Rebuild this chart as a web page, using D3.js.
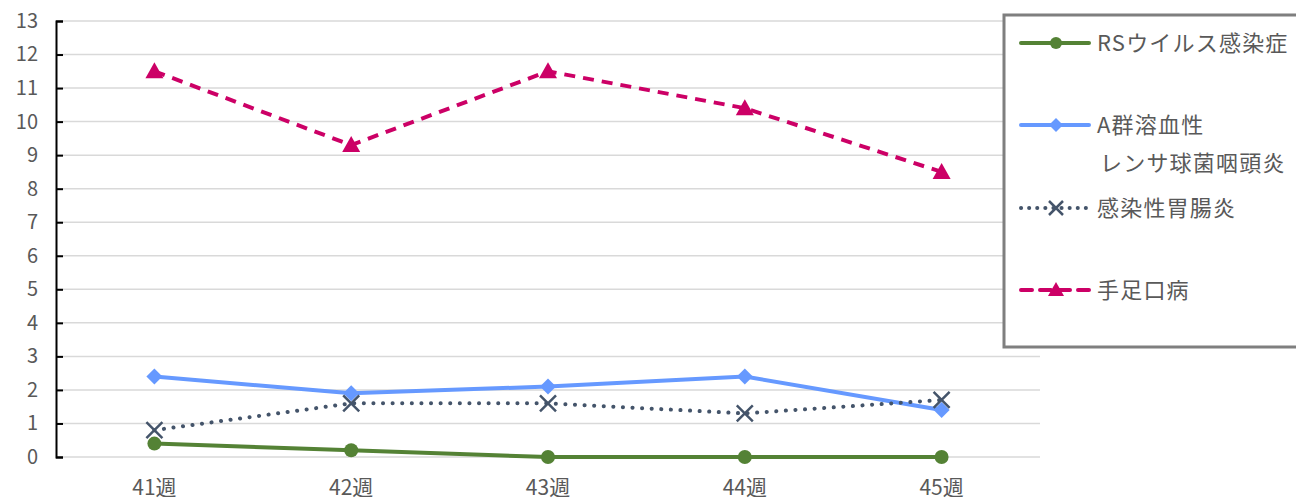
<!DOCTYPE html>
<html>
<head>
<meta charset="utf-8">
<script src="https://cdn.jsdelivr.net/npm/d3@7"></script>
<style>
  body { margin: 0; background: #ffffff; }
  svg text { font-family: "Noto Sans CJK JP", "Noto Sans", sans-serif; fill: #595959; }
</style>
</head>
<body>
<div id="chart"></div>
<script>
// data
var weeks = ["41週", "42週", "43週", "44週", "45週"];
var rsVirus = [0.4, 0.2, 0, 0, 0];
var strepA = [2.4, 1.9, 2.1, 2.4, 1.4];
var gastro = [0.8, 1.6, 1.6, 1.3, 1.7];
var handFootMouth = [11.5, 9.3, 11.5, 10.4, 8.5];
var yTicks = d3.range(0, 14);

var series = [
    {name: ["RSウイルス感染症"], values: rsVirus, color: "#548235", dash: null, marker: "circle"},
    {name: ["A群溶血性", "レンサ球菌咽頭炎"], values: strepA, color: "#6699ff", dash: null, marker: "diamond"},
    {name: ["感染性胃腸炎"], values: gastro, color: "#44546a", dash: "0.1,9.5", marker: "cross"},
    {name: ["手足口病"], values: handFootMouth, color: "#cc0066", dash: "11,8", marker: "triangle"}
];

var W = 1296, H = 502;
var plotLeft = 56, plotRight = 1040, plotTop = 21, plotBottom = 457;

var svg = d3.select("#chart").append("svg")
    .attr("width", W)
    .attr("height", H);

var x = d3.scaleBand().domain(weeks).range([plotLeft, plotRight]);
var y = d3.scaleLinear().domain([0, 13]).range([plotBottom, plotTop]);

// gridlines
svg.append("g")
    .selectAll("line")
    .data(yTicks)
    .enter().append("line")
    .attr("x1", plotLeft)
    .attr("x2", plotRight)
    .attr("y1", function(d){ return y(d); })
    .attr("y2", function(d){ return y(d); })
    .attr("stroke", "#d9d9d9")
    .attr("stroke-width", 1.5);

// y axis
var yAxis = svg.append("g")
    .attr("transform", "translate(" + plotLeft + ",0)")
    .call(d3.axisLeft(y).tickValues(yTicks).tickSize(-7).tickPadding(18).tickFormat(d3.format("d")));
yAxis.select(".domain").attr("stroke", "#000").attr("stroke-width", 2);
yAxis.selectAll(".tick line").attr("stroke", "#000").attr("stroke-width", 2);
yAxis.selectAll("text").style("font-size", "20px").attr("fill", "#595959");

// x labels
var xAxis = svg.append("g")
    .attr("transform", "translate(0," + plotBottom + ")")
    .call(d3.axisBottom(x).tickSize(0).tickPadding(23));
xAxis.select(".domain").remove();
xAxis.selectAll("text").style("font-size", "21px").attr("fill", "#595959");

var line = d3.line()
    .x(function(d, i){ return x(weeks[i]) + x.bandwidth() / 2; })
    .y(function(d){ return y(d); });

function drawMarker(g, type, color, cx, cy, sz) {
    sz = sz || 8;
    if (type == "circle") {
        g.append("circle").attr("cx", cx).attr("cy", cy).attr("r", sz - 1).attr("fill", color);
    } else if (type == "diamond") {
        g.append("path")
            .attr("d", "M" + cx + "," + (cy - sz) + " L" + (cx + sz) + "," + cy + " L" + cx + "," + (cy + sz) + " L" + (cx - sz) + "," + cy + "Z")
            .attr("fill", color);
    } else if (type == "cross") {
        g.append("path")
            .attr("d", "M" + (cx - sz) + "," + (cy - sz) + " L" + (cx + sz) + "," + (cy + sz) + " M" + (cx + sz) + "," + (cy - sz) + " L" + (cx - sz) + "," + (cy + sz))
            .attr("stroke", color).attr("stroke-width", 2.5).attr("fill", "none");
    } else if (type == "triangle") {
        g.append("path")
            .attr("d", "M" + cx + "," + (cy - sz - 1) + " L" + (cx + sz + 1) + "," + (cy + sz - 1) + " L" + (cx - sz - 1) + "," + (cy + sz - 1) + "Z")
            .attr("fill", color);
    }
}

// lines and markers
series.forEach(function(s){
    var g = svg.append("g");
    g.append("path")
        .attr("d", line(s.values))
        .attr("fill", "none")
        .attr("stroke", s.color)
        .attr("stroke-width", 4)
        .attr("stroke-linecap", s.marker == "cross" ? "round" : "butt")
        .attr("stroke-dasharray", s.dash);
    s.values.forEach(function(v, i){
        drawMarker(g, s.marker, s.color, x(weeks[i]) + x.bandwidth() / 2, y(v));
    });
});

// legend
var legend = svg.append("g");
legend.append("rect")
    .attr("x", 1004)
    .attr("y", 15)
    .attr("width", 300)
    .attr("height", 332)
    .attr("fill", "#fff")
    .attr("stroke", "#7f7f7f")
    .attr("stroke-width", 3);

var rowY = [43, 125, 208, 290];
series.forEach(function(s, i){
    var ly = rowY[i];
    legend.append("line")
        .attr("x1", 1021).attr("x2", 1089)
        .attr("y1", ly).attr("y2", ly)
        .attr("stroke", s.color)
        .attr("stroke-width", 4)
        .attr("stroke-linecap", s.marker == "cross" ? "round" : "round")
        .attr("stroke-dasharray", s.marker == "cross" ? "0.1,8" : s.dash);
    drawMarker(legend, s.marker, s.color, 1056, ly, 7);
    s.name.forEach(function(t, j){
        legend.append("text")
            .attr("x", j == 0 ? 1097 : 1100)
            .attr("y", ly + j * 38 + 8)
            .style("font-size", "22px")
            .style("letter-spacing", "1.2px")
            .text(t);
    });
});
</script>
</body>
</html>
